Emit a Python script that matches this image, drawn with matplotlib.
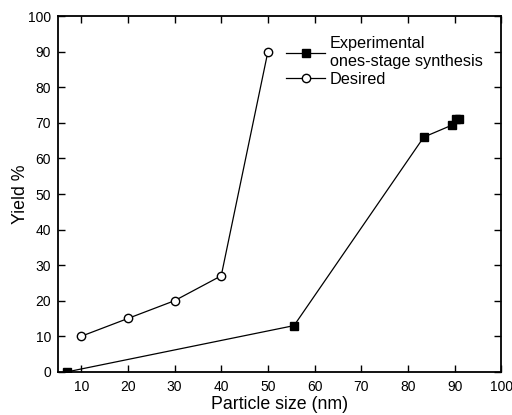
import matplotlib
matplotlib.use('Agg')
import matplotlib.pyplot as plt

plt.rcParams['font.family'] = ['Liberation Sans', 'DejaVu Sans']

# Experimental one-stage synthesis
expSize = [7, 55.6, 83.4, 89.5, 90.2, 91]
expYield = [0, 13, 66, 69.4, 71, 71]

# Desired yield
desSize = [10, 20, 30, 40, 50]
desYield = [10, 15, 20, 27, 90]

fig = plt.figure(figsize=(5.12, 4.15), dpi=100)
ax = fig.add_axes([0.113, 0.104, 0.866, 0.857])

ax.plot(expSize, expYield, marker='s', markersize=5.5, color='black', linewidth=0.9,
        markerfacecolor='black', label='Experimental\nones-stage synthesis')
ax.plot(desSize, desYield, marker='o', markersize=6, color='black', linewidth=0.9,
        markerfacecolor='white', label='Desired')

ax.set_xlim(5, 100)
ax.set_ylim(0, 100)
ax.set_xticks(range(10, 101, 10))
ax.set_yticks(range(0, 101, 10))
ax.tick_params(direction='in', top=True, right=True, labeltop=False, labelright=False,
               length=5, width=1, labelsize=10)
ax.tick_params(axis='x', pad=6)
ax.tick_params(axis='y', pad=5)
for s in ax.spines.values():
    s.set_linewidth(1.3)

ax.set_xlabel('Particle size (nm)', fontsize=12.8, labelpad=1)
ax.set_ylabel('Yield %', fontsize=12.8, labelpad=-1)

leg = ax.legend(loc='upper left', bbox_to_anchor=(0.49, 0.975), frameon=False,
                fontsize=11.7, handlelength=2.4, handletextpad=0.25,
                labelspacing=0.2, borderpad=0.2)

fig.savefig('out.png', dpi=100)
